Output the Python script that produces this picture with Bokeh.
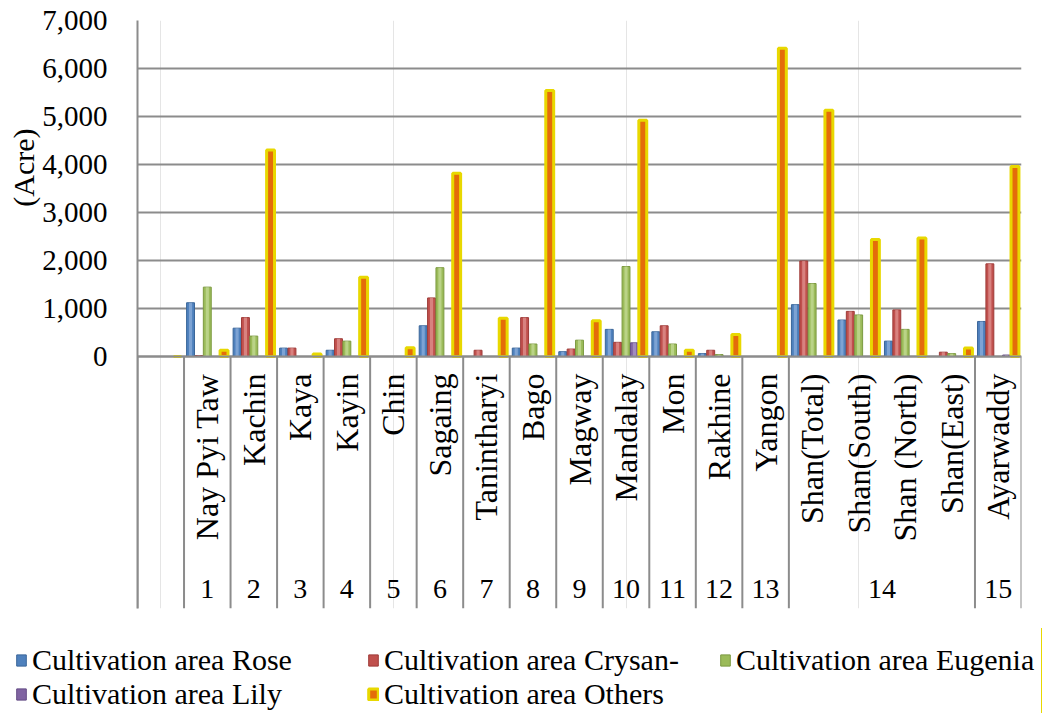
from math import pi
from bokeh.plotting import figure
from bokeh.layouts import column
from bokeh.models import (ColumnDataSource, FixedTicker, NumeralTickFormatter,
                          Legend, LegendItem, Title)
from bokeh.transform import dodge
from bokeh.core.properties import value
from bokeh.embed import file_html
from bokeh.resources import INLINE

# ---- data -------------------------------------------------------------
regions = ["", "Nay Pyi Taw", "Kachin", "Kaya", "Kayin", "Chin", "Sagaing",
           "Tanintharyi", "Bago", "Magway", "Mandalay", "Mon", "Rakhine",
           "Yangon", "Shan(Total)", "Shan(South)", "Shan (North)",
           "Shan(East)", "Ayarwaddy"]
groups = ["", "1", "2", "3", "4", "5", "6", "7", "8", "9", "10", "11", "12",
          "13", "14", "14", "14", "14", "15"]

rose    = [0, 1120, 590, 175, 130, 0, 640, 0, 175, 100, 565, 515, 60, 0, 1080, 760, 320, 0, 730]
crysan  = [0, 20, 810, 175, 370, 0, 1220, 130, 810, 155, 295, 640, 130, 0, 1990, 940, 970, 90, 1930]
eugenia = [0, 1445, 425, 0, 320, 0, 1850, 0, 260, 340, 1875, 260, 40, 0, 1520, 865, 565, 60, 0]
lily    = [0, 0, 0, 0, 0, 0, 0, 0, 0, 0, 285, 0, 0, 0, 0, 0, 0, 0, 30]
others  = [0, 130, 4300, 50, 1650, 180, 3820, 795, 5540, 745, 4920, 130, 460, 6420, 5130, 2440, 2470, 175, 3960]

series_keys = ["rose", "crysan", "eugenia", "lily", "others"]
series_labels = ["Cultivation area Rose", "Cultivation area Crysan-",
                 "Cultivation area Eugenia", "Cultivation area Lily",
                 "Cultivation area Others"]
y_ticks = [0, 1000, 2000, 3000, 4000, 5000, 6000, 7000]
y_title = "(Acre)"

# ---- styling ----------------------------------------------------------
FONT = "Liberation Serif"
GRID = "#8C8C8C"
fills = ["#4F81BD", "#C0504D", "#9BBB59", "#8064A2", "#E46C0A"]
edges = ["#3A6699", "#9E3B38", "#7C9A40", "#644C85", "#E8D800"]
highlights = ["#9DBBE3", "#E8A3A1", "#CFE3A6", "#B7A5D0", None]


def set_font(obj, attr, font):
    try:
        setattr(obj, attr, value(font))
    except Exception:
        setattr(obj, attr, font)


n = len(regions)
idx = list(range(n))
source = ColumnDataSource(dict(x=idx, region=regions, group=groups, rose=rose,
                               crysan=crysan, eugenia=eugenia, lily=lily,
                               others=others))

y_bottom = -5250
p = figure(width=1042, height=628, x_range=(-0.5, n - 0.5),
           y_range=(y_bottom, 7000), x_axis_location=None,
           output_backend="svg", toolbar_location=None,
           min_border_left=137, min_border_right=21, min_border_top=20,
           min_border_bottom=20)
p.outline_line_color = None
p.background_fill_color = "white"
p.border_fill_color = "white"

yax = p.yaxis[0]
yax.ticker = FixedTicker(ticks=y_ticks)
yax.formatter = NumeralTickFormatter(format="0,0")
yax.major_tick_line_color = None
yax.minor_tick_line_color = None
yax.major_tick_out = 0
yax.major_tick_in = 0
yax.minor_tick_out = 0
yax.minor_tick_in = 0
yax.axis_line_color = GRID
yax.axis_line_width = 2
yax.major_label_standoff = 30
set_font(yax, "major_label_text_font", FONT)
yax.major_label_text_font_size = "29px"
yax.major_label_text_color = "black"
p.ygrid.grid_line_color = GRID
p.ygrid.grid_line_width = 2

p.add_layout(Title(text=y_title, align="right", offset=108, standoff=0,
                   text_font=FONT, text_font_size="30px",
                   text_font_style="normal", text_color="black"), "left")

# ---- bars -------------------------------------------------------------
step = 0.18
bw = 0.17
for k, key in enumerate(series_keys):
    off = (k - 2) * step
    p.vbar(x=dodge("x", off, range=p.x_range), top=key, width=bw,
           source=source, fill_color=fills[k], line_color=edges[k],
           line_width=3 if key == "others" else 1)
    if highlights[k]:
        p.vbar(x=dodge("x", off, range=p.x_range), top=key, width=bw * 0.4,
               source=source, fill_color=highlights[k], fill_alpha=0.6,
               line_color=None)

# ---- category axis (drawn) ---------------------------------------------
bounds = [-0.5] + [i - 0.5 for i in range(1, n) if groups[i] != groups[i - 1]] + [n - 0.5]
p.segment(x0=bounds, y0=[0] * len(bounds), x1=bounds, y1=[y_bottom] * len(bounds),
          line_color=GRID, line_width=2)
p.segment(x0=[-0.5], y0=[0], x1=[n - 0.5], y1=[0], line_color=GRID, line_width=2)

p.text(x="x", y=0, text="region", source=source, angle=pi / 2,
       text_align="right", text_baseline="middle", y_offset=17,
       text_font=value(FONT), text_font_size="32px", text_color="black")

gnames, gx = [], []
for g in groups:
    if g and g not in gnames:
        gnames.append(g)
for g in gnames:
    members = [i for i in idx if groups[i] == g]
    gx.append(sum(members) / len(members))
p.text(x=gx, y=[0] * len(gx), text=gnames, text_align="center",
       text_baseline="middle", y_offset=232, text_font=value(FONT),
       text_font_size="28px", text_color="black")

# ---- legend (own strip below the chart) ---------------------------------
lf = figure(width=1042, height=85, x_range=(-100, -99), y_range=(0, 1),
            x_axis_location=None, y_axis_location=None,
            output_backend="svg", toolbar_location=None, min_border=0)
lf.outline_line_color = None
lf.grid.visible = False
for fig in (p, lf):
    try:
        fig.frame_align = False
    except AttributeError:
        pass
leg_renderers = []
for k, key in enumerate(series_keys):
    r = lf.vbar(x=dodge("x", (k - 2) * step, range=lf.x_range), top=key,
                width=bw, source=source, fill_color=fills[k],
                line_color=edges[k], line_width=3 if key == "others" else 1)
    leg_renderers.append(r)

legend = Legend(items=[LegendItem(label=lab, renderers=[r])
                       for lab, r in zip(series_labels, leg_renderers)],
                location=(15, 2), orientation="horizontal", ncols=3)
legend.padding = 0
legend.margin = 0
legend.spacing = 0
legend.label_standoff = 5
legend.label_width = 335
legend.glyph_width = 12
legend.glyph_height = 14
legend.border_line_color = None
legend.background_fill_alpha = 0
set_font(legend, "label_text_font", FONT)
legend.label_text_font_size = "30px"
legend.label_text_color = "black"
lf.add_layout(legend)

layout = column(p, lf, spacing=0)
open("out.html", "w").write(file_html(layout, INLINE))
